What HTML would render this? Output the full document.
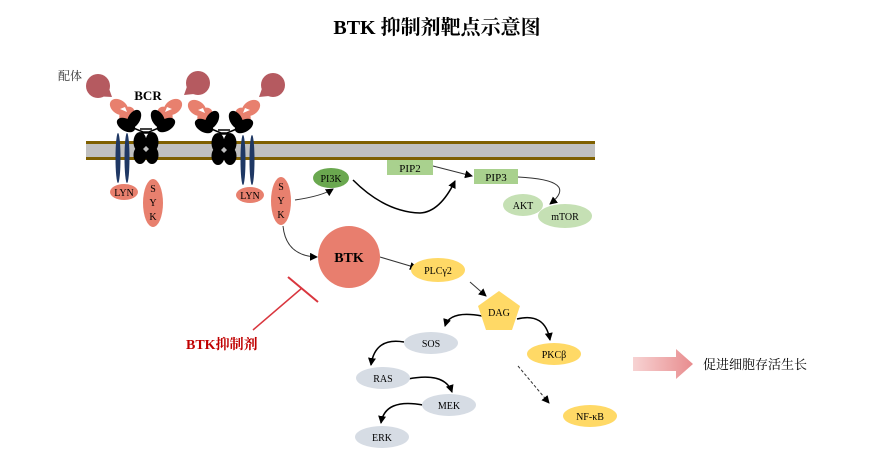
<!DOCTYPE html>
<html><head><meta charset="utf-8"><style>
html,body{margin:0;padding:0;background:#fff;}
svg{display:block;}
text{font-family:"Liberation Serif","Noto Serif CJK SC",serif;}
</style></head><body>
<svg width="881" height="461" viewBox="0 0 881 461" xmlns="http://www.w3.org/2000/svg">
<defs>
<marker id="a" markerWidth="8" markerHeight="8" refX="7" refY="4" orient="auto" markerUnits="userSpaceOnUse"><path d="M0,0 L8,4 L0,8 Z" fill="#000"/></marker>
<linearGradient id="g" x1="0" x2="1"><stop offset="0" stop-color="#f7d3d3"/><stop offset="1" stop-color="#e88c8e"/></linearGradient>
</defs>
<text x="437" y="34" text-anchor="middle" font-size="20" font-weight="bold">BTK 抑制剂靶点示意图</text>
<rect x="86" y="141" width="509" height="19" fill="#c0c0c0"/>
<rect x="86" y="141" width="509" height="3" fill="#7f6000"/>
<rect x="86" y="157" width="509" height="3" fill="#7f6000"/>
<text x="58" y="80" font-size="12" fill="#333" font-family="Liberation Sans,Noto Sans CJK SC,sans-serif">配体</text>
<text x="148" y="100" text-anchor="middle" font-size="13" font-weight="bold">BCR</text>
<g fill="#b55a60">
<circle cx="98" cy="86" r="12"/><path d="M92,96 L112,97 L106,80 Z"/>
<circle cx="198" cy="83" r="12"/><path d="M204,93 L184,95 L190,78 Z"/>
<circle cx="273" cy="85" r="12"/><path d="M279,95 L259,97 L265,80 Z"/>
</g>
<g id="ab1">
<g transform="translate(0,3)">
<g fill="#e8806e">
<ellipse cx="119" cy="104" rx="10" ry="7" transform="rotate(35 119 104)"/><ellipse cx="127" cy="112" rx="7" ry="9" transform="rotate(35 127 112)"/>
<ellipse cx="173" cy="104" rx="10" ry="7" transform="rotate(-35 173 104)"/><ellipse cx="165" cy="112" rx="7" ry="9" transform="rotate(-35 165 112)"/>
</g>
<path d="M120,106 l5,-2 l2,5 z M172,106 l-5,-2 l-2,5z" fill="#fff"/>
<g fill="#000">
<ellipse cx="134" cy="116" rx="6" ry="10" transform="rotate(30 134 116)"/><ellipse cx="126" cy="122" rx="10" ry="6" transform="rotate(30 126 122)"/>
<ellipse cx="158" cy="116" rx="6" ry="10" transform="rotate(-30 158 116)"/><ellipse cx="166" cy="122" rx="10" ry="6" transform="rotate(-30 166 122)"/>
</g>
</g>
<g fill="#000">
<ellipse cx="140" cy="142" rx="6.5" ry="10"/><ellipse cx="152" cy="142" rx="6.5" ry="10"/>
<ellipse cx="140" cy="155" rx="6.5" ry="9"/><ellipse cx="152" cy="155" rx="6.5" ry="9"/>
</g>
<path d="M131,127 L143,132 L149,132 L161,127 M140,129 L152,129 M141,133 L151,133" stroke="#000" stroke-width="1.5" fill="none"/>
<path d="M146,146 l3,3 l-3,3 l-3,-3z" fill="#c0c0c0"/>
</g>
<use href="#ab1" transform="translate(78,1)"/>
<g fill="#1f3864">
<ellipse cx="118" cy="158" rx="2.5" ry="25"/><ellipse cx="127" cy="158" rx="2.5" ry="25"/>
<ellipse cx="243" cy="160" rx="2.5" ry="25"/><ellipse cx="252" cy="160" rx="2.5" ry="25"/>
</g>
<g fill="#e8806e">
<ellipse cx="124" cy="192" rx="14" ry="8"/><ellipse cx="250" cy="195" rx="14" ry="8"/>
<ellipse cx="153" cy="203" rx="10" ry="24"/><ellipse cx="281" cy="201" rx="10" ry="24"/>
</g>
<g font-size="10" text-anchor="middle">
<text x="124" y="196">LYN</text><text x="250" y="199">LYN</text>
<text x="153" y="192">S</text><text x="153" y="206">Y</text><text x="153" y="220">K</text>
<text x="281" y="190">S</text><text x="281" y="204">Y</text><text x="281" y="218">K</text>
</g>
<g fill="none" stroke="#333" stroke-width="1">
<path d="M295,200 Q322,196 333,189" marker-end="url(#a)"/>
<path d="M283,226 Q286,256 317,257" marker-end="url(#a)"/>
<path d="M433,166 L472,176" marker-end="url(#a)"/>
<path d="M380,257 L417,268" marker-end="url(#a)"/>
<path d="M470,282 L486,296" marker-end="url(#a)"/>
<path d="M518,177 Q580,180 550,204" marker-end="url(#a)"/>
<path d="M518,366 L549,403" stroke-dasharray="3,2" marker-end="url(#a)"/>
</g>
<g fill="none" stroke="#000" stroke-width="1.5">
<path d="M353,180 Q385,212 420,213 Q440,212 455,181" marker-end="url(#a)"/>
<path d="M482,316 Q450,310 445,326" marker-end="url(#a)"/>
<path d="M517,319 Q545,312 550,340" marker-end="url(#a)"/>
<path d="M404,342 Q375,337 371,365" marker-end="url(#a)"/>
<path d="M408,379 Q445,372 452,392" marker-end="url(#a)"/>
<path d="M423,405 Q385,398 381,423" marker-end="url(#a)"/>
</g>
<ellipse cx="331" cy="178" rx="18" ry="10" fill="#6aa84f"/>
<text x="331" y="182" font-size="10" text-anchor="middle">PI3K</text>
<rect x="387" y="160" width="46" height="15" fill="#a9d18e"/>
<text x="410" y="172" font-size="11" text-anchor="middle">PIP2</text>
<rect x="474" y="169" width="44" height="15" fill="#a9d18e"/>
<text x="496" y="181" font-size="11" text-anchor="middle">PIP3</text>
<ellipse cx="523" cy="205" rx="20" ry="11" fill="#c5e0b4"/>
<text x="523" y="209" font-size="10" text-anchor="middle">AKT</text>
<ellipse cx="565" cy="216" rx="27" ry="12" fill="#c5e0b4"/>
<text x="565" y="220" font-size="10" text-anchor="middle">mTOR</text>
<circle cx="349" cy="257" r="31" fill="#e87e6e"/>
<text x="349" y="262" font-size="14" font-weight="bold" text-anchor="middle">BTK</text>
<ellipse cx="438" cy="270" rx="27" ry="12" fill="#ffd966"/>
<text x="438" y="274" font-size="10" text-anchor="middle">PLCγ2</text>
<path d="M499,291 L520,306 L512,330 L486,330 L478,306 Z" fill="#ffd966"/>
<text x="499" y="316" font-size="10" text-anchor="middle">DAG</text>
<g fill="#d6dce4">
<ellipse cx="431" cy="343" rx="27" ry="11"/><ellipse cx="383" cy="378" rx="27" ry="11"/>
<ellipse cx="449" cy="405" rx="27" ry="11"/><ellipse cx="382" cy="437" rx="27" ry="11"/>
</g>
<g fill="#ffd966"><ellipse cx="554" cy="354" rx="27" ry="11"/><ellipse cx="590" cy="416" rx="27" ry="11"/></g>
<g font-size="10" text-anchor="middle">
<text x="431" y="347">SOS</text><text x="383" y="382">RAS</text><text x="449" y="409">MEK</text><text x="382" y="441">ERK</text>
<text x="554" y="358">PKCβ</text><text x="590" y="420">NF-κB</text>
</g>
<path d="M253,330 L302,288" stroke="#d9363e" stroke-width="1.5"/>
<path d="M288,277 L318,302" stroke="#d9363e" stroke-width="2"/>
<text x="186" y="349" font-size="14" font-weight="bold" fill="#c00000">BTK抑制剂</text>
<path d="M633,357 L676,357 L676,349 L693,364 L676,379 L676,371 L633,371 Z" fill="url(#g)"/>
<text x="703" y="369" font-size="13" font-family="Liberation Sans,Noto Sans CJK SC,sans-serif">促进细胞存活生长</text>
</svg>
</body></html>
